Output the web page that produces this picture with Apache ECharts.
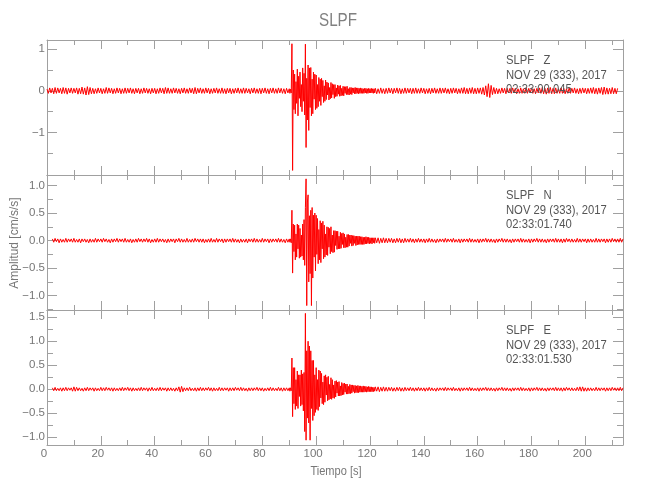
<!DOCTYPE html>
<html>
<head>
<meta charset="utf-8">
<script src="https://cdn.jsdelivr.net/npm/echarts@6/dist/echarts.min.js"></script>
<style>html,body{margin:0;padding:0;background:#fff}#c{width:650px;height:500px}</style>
</head>
<body>
<div id="c"></div>
<script>
// ---------- DATA ----------
const title = 'SLPF';
const components = ['Z', 'N', 'E'];
const stampLines = [
  ['SLPF   Z', 'NOV 29 (333), 2017', '02:33:00.045'],
  ['SLPF   N', 'NOV 29 (333), 2017', '02:33:01.740'],
  ['SLPF   E', 'NOV 29 (333), 2017', '02:33:01.530']
];
const xName = 'Tiempo [s]';
const yName = 'Amplitud [cm/s/s]';
const xTicks = [0, 20, 40, 60, 80, 100, 120, 140, 160, 180, 200];
const xMinorTicks = [10, 30, 50, 70, 90, 110, 130, 150, 170, 190, 210];
const xRange = [0, 214];
const yRanges = [[-2.02, 1.22], [-1.26, 1.19], [-1.16, 1.65]];
const yTicks = [[-1, 0, 1], [-1, -0.5, 0, 0.5, 1], [-1, -0.5, 0, 0.5, 1, 1.5]];
const yMinorTicks = [[-1.5, -0.5, 0.5], [-1.25, -0.75, -0.25, 0.25, 0.75], [-0.75, -0.25, 0.25, 0.75, 1.25]];

// sampling times (s); amplitudes below are in units of 0.01 cm/s/s
const traceStart = [0, 2, 2];
const quietStep = 0.5, eventStart = 90, eventStep = 0.25, postStart = 122;
const ampUnit = 0.01;

// Z component
const zPre = [4,-6,7,-5,6,-7,8,-6,7,-5, 6,-7,8,-6,7,-8,6,-5,7,-6, 6,-5,7,-8,6,-7,9,-8,7,-10,
10,-9,8,-7,6,-7,5,-6,7,-5, 6,-7,5,-6,8,-6,7,-5,6,-7, 5,-6,7,-5,6,-7,5,-6,7,-6,
6,-5,7,-6,5,-7,6,-5,6,-7, 5,-6,7,-5,6,-6,5,-7,6,-5, 6,-7,5,-6,7,-5,6,-7,8,-6,
7,-6,5,-6,7,-5,6,-6,5,-7, 6,-5,7,-6,5,-6,7,-5,6,-7, 8,-7,6,-5,7,-6,5,-6,7,-5,
6,-7,5,-6,6,-5,7,-6,5,-6, 7,-6,5,-7,6,-5,6,-7,5,-6, 6,-5,7,-6,5,-6,7,-6,6,-5,
5,-7,6,-5,7,-6,5,-6,6,-7, 6,-5,7,-6,5,-7,6,-5,7,-6, 5,-6,7,-5,6,-6,5,-7,6,-5];
const zEvent = [5,-6,4,-5, 113,-191,50,-45, 40,-55,22,-30, 52,-60,35,-18, 45,-38,15,-50,
55,-25,42,-58, 112,-136,30,-70, 62,-95,55,-40, 56,-60,28,-55, 45,-20,40,-45,
38,-42,15,-38, 32,-25,28,-35, 30,-14,25,-28, 12,-25,26,-21, 21,-10,19,-22,
8,-19,20,-17, 17,-9,15,-18, 15,-14,7,-13, 14,-8,12,-13, 13,-12,6,-11,
11,-12,10,-6, 10,-9,11,-9, 5,-10,8,-8, 8,-9,7,-5, 7,-7,8,-7, 7,-6,7,-7,
6,-6,7,-6, 6,-6,5,-6, 6,-5,6,-6, 5,-6,6,-5, 5,-5,6,-5, 5,-6,5,-5];
const zPost = [6,-7,5,-6,7,-6,5,-7,6,-6, 7,-5,6,-7,6,-5,7,-6,6,-7, 5,-6,7,-6,6,-5,6,-7,6,-6,
7,-6,5,-6,7,-5,6,-7,5,-6, 6,-7,6,-5,7,-6,5,-6,7,-6, 6,-5,7,-6,5,-7,6,-6,7,-5,
6,-7,5,-6,7,-6,8,-7,6,-7, 7,-6,8,-7,6,-7,7,-6,7,-8, 8,-10,12,-14,17,-16,13,-9,8,-7,
6,-7,5,-6,7,-5,6,-7,6,-5, 6,-6,7,-5,6,-7,5,-6,7,-6, 5,-6,7,-6,6,-5,7,-6,5,-7,
6,-5,7,-6,8,-7,6,-8,7,-6, 8,-7,6,-7,7,-6,5,-6,7,-6, 6,-7,5,-6,7,-6,6,-5,7,-6,
5,-7,6,-6,7,-5,6,-7,6,-6, 7,-6,8,-7,6,-8,7,-6,8,-9, 9,-8,7,-8,6,-7,8,-7,6,-7, 6];

// N component
const nPre = [3,-3,4,-2,3,-4,3,-3,2,-3, 4,-3,3,-2,3,-3,4,-3,2,-3, 3,-4,3,-2,3,-3,2,-4,3,-3,
2,-3,4,-3,3,-2,3,-3,4,-2, 3,-3,2,-4,3,-3,3,-2,4,-3, 3,-2,3,-3,4,-3,2,-3,3,-4,
2,-3,3,-3,4,-2,3,-3,3,-2, 4,-3,3,-4,2,-3,3,-3,4,-3, 3,-2,3,-3,2,-4,3,-3,3,-2,
3,-4,3,-2,4,-3,3,-3,2,-3, 4,-3,2,-3,3,-3,4,-2,3,-3, 3,-3,3,-4,2,-3,3,-3,4,-3,
2,-3,4,-3,3,-2,3,-4,3,-3, 3,-2,3,-3,4,-3,3,-3,2,-4, 3,-3,2,-3,3,-4,3,-2,3,-3,
4,-3,3,-3,2,-3,4,-3,3,-2, 3,-4,3,-3,3,-2,3,-3,4,-3, 3,-3,2,-4,3,-3];
const nEvent = [3,-3,3,-4, 55,-59,30,-20, 28,-35,12,-30, 30,-15,28,-32, 22,-30,10,-28,
30,-35,38,-45, 60,112,-118,70, 83,-75,45,-60, 55,-118,60,-68, 46,-30,50,-55,
46,-25,40,-42, 20,-35,36,-40, 32,-15,35,-33, 28,-30,12,-26, 25,-27,24,-12,
22,-24,25,-20, 10,-22,18,-21, 18,-9,17,-16, 17,-15,8,-15, 15,-14,13,-7,
14,-13,12,-13, 6,-12,11,-12, 11,-10,10,-5, 10,-10,9,-9, 9,-5,8,-9,
8,-8,8,-7, 8,-7,7,-7, 7,-7,6,-7, 6,-6,7,-6, 6,-5,6,-6, 5,-5,5,-6, 5,-4,5,-5];
const nPost = [5,-4,5,-5,4,-4,5,-4,4,-4, 4,-3,4,-4,3,-4,4,-3,4,-4, 3,-4,4,-3,3,-3,4,-3,3,-4,
3,-3,4,-3,3,-3,3,-4,3,-3, 4,-3,3,-3,2,-4,3,-3,3,-2, 3,-3,4,-3,3,-2,3,-3,4,-3,
2,-3,3,-4,3,-3,3,-2,3,-3, 4,-3,3,-3,2,-3,3,-4,3,-3, 3,-2,4,-3,3,-3,3,-3,2,-4,
3,-3,3,-2,4,-3,3,-3,3,-3, 2,-4,3,-3,3,-2,3,-3,4,-3, 3,-3,2,-3,3,-4,3,-3,3,-2,
4,-3,3,-3,3,-3,2,-4,3,-3, 3,-2,3,-3,4,-3,3,-3,3,-4, 3,-3,4,-2,3,-3,3,-3,2,-3,
4,-3,3,-3,3,-2,3,-4,3,-3, 3,-3,2,-3,4,-3,3,-3,3,-2, 3,-4,3,-3,3,-3,4,-2,3,-3, 3,-3,4,-3,3];

// E component
const ePre = [3,-3,4,-3,2,-3,3,-4,3,-3, 4,-3,3,-2,3,-4,5,-4,4,-3, 3,-3,2,-4,3,-3,4,-3,3,-2,
3,-4,3,-3,2,-3,4,-3,3,-3, 4,-2,3,-3,3,-4,3,-3,2,-3, 3,-3,4,-3,3,-2,4,-3,3,-4,
3,-3,2,-3,3,-3,4,-3,3,-2, 3,-4,3,-3,4,-3,2,-3,3,-3, 4,-3,3,-2,3,-4,3,-3,3,-3,
2,-4,3,-3,5,-6,6,-5,3,-3, 3,-3,4,-3,2,-3,3,-4,3,-3, 4,-3,3,-3,3,-2,4,-3,3,-4,
3,-3,2,-3,4,-3,3,-3,3,-2, 3,-4,3,-3,3,-3,4,-2,3,-3, 4,-3,3,-3,2,-4,3,-3,3,-3,
3,-2,4,-3,3,-3,3,-4,2,-3, 3,-3,4,-3,3,-3,2,-3,4,-3, 3,-4,3,-3,3,-3];
const eEvent = [3,-4,3,-3, 65,-57,45,-30, 45,-42,20,-35, 38,-40,30,-15, 30,-35,40,-32,
32,-45,35,-88, 158,-106,80,-60, 100,-70,90,-106, 80,-40,60,-65, 60,-55,30,-48,
45,-42,20,-44, 40,-36,38,-18, 33,-30,15,-32, 28,-27,30,-12, 25,-24,27,-22,
10,-20,24,-21, 20,-18,9,-19, 17,-16,18,-8, 15,-14,16,-14, 7,-13,14,-12,
12,-11,13,-6, 11,-10,11,-10, 6,-9,10,-9, 9,-8,9,-5, 8,-8,8,-7,
7,-7,8,-7, 7,-6,7,-6, 6,-6,7,-6, 6,-5,6,-6, 5,-5,6,-5, 5,-5,5,-5, 4,-5,4,-4];
const ePost = [5,-4,5,-5,4,-4,5,-4,4,-4, 4,-3,4,-4,3,-4,4,-3,4,-4, 3,-4,4,-3,3,-3,4,-3,3,-4,
3,-3,4,-3,3,-3,3,-4,3,-3, 4,-3,3,-3,2,-4,3,-3,3,-2, 3,-3,4,-3,3,-2,3,-3,4,-3,
2,-3,3,-4,3,-3,3,-2,3,-3, 4,-3,3,-3,2,-3,3,-4,3,-3, 3,-2,4,-3,3,-3,3,-3,2,-4,
3,-3,3,-2,4,-3,3,-3,3,-3, 2,-4,3,-3,3,-2,3,-3,4,-3, 3,-3,2,-3,3,-4,3,-3,3,-2,
4,-3,3,-3,3,-3,2,-4,3,-3, 3,-2,3,-3,4,-3,3,-3,3,-4, 3,-3,4,-2,3,-3,3,-3,2,-3,
4,-3,5,-4,5,-4,3,-4,3,-3, 3,-3,2,-3,4,-3,3,-3,3,-2, 3,-4,3,-3,3,-3,4,-2,3,-3, 3,-3,4,-3,3];

// ---------- STYLE / LAYOUT ----------
const FONT = "'Liberation Sans',Arial,sans-serif";
const AX = '#a0a0a0';
const LBL = '#777777';
const TXT = '#555555';
const TRACE = '#ff0000';
const gridLeft = 47, gridWidth = 576, gridHeight = 135;
const gridTops = [40, 175, 310];

function buildTrace(t0, pre, ev, post) {
  const d = [];
  pre.forEach((v, i) => d.push([t0 + i * quietStep, v * ampUnit]));
  ev.forEach((v, i) => d.push([eventStart + i * eventStep, v * ampUnit]));
  post.forEach((v, i) => d.push([postStart + i * quietStep, v * ampUnit]));
  return d;
}
const traces = [
  buildTrace(traceStart[0], zPre, zEvent, zPost),
  buildTrace(traceStart[1], nPre, nEvent, nPost),
  buildTrace(traceStart[2], ePre, eEvent, ePost)
];

function fmtY(gi) {
  return function (v) {
    const a = Math.abs(v);
    const s = gi === 0 ? String(Math.round(a)) : a.toFixed(1);
    return (v < -1e-9 ? '\u2212' : '') + s;
  };
}

const grids = [], xAxes = [], yAxes = [], series = [], graphics = [];
gridTops.forEach((top, gi) => {
  grids.push({ left: gridLeft, top: top, width: gridWidth, height: gridHeight, outerBoundsMode: 'none', containLabel: false });
  const xMainIdx = xAxes.length;
  const mkX = (pos, ticks, len, line, labels) => ({
    gridIndex: gi, type: 'value', min: xRange[0], max: xRange[1], position: pos,
    axisLine: { show: line, onZero: false, lineStyle: { color: AX, width: 1 } },
    axisTick: { show: true, inside: true, length: len, customValues: ticks, lineStyle: { color: AX, width: 1 } },
    axisLabel: labels ? { show: true, customValues: xTicks, margin: 3, color: LBL, fontFamily: FONT, fontSize: 11.5, padding: [0, 6, 0, 0] } : { show: false },
    splitLine: { show: false }, minorTick: { show: false }
  });
  xAxes.push(mkX('bottom', xTicks, 9, true, gi === 2));
  xAxes.push(mkX('bottom', xMinorTicks, 5, false, false));
  xAxes.push(mkX('top', xTicks, 9, true, false));
  xAxes.push(mkX('top', xMinorTicks, 5, false, false));

  const yMainIdx = yAxes.length;
  const mkY = (pos, ticks, len, line, labels) => ({
    gridIndex: gi, type: 'value', min: yRanges[gi][0], max: yRanges[gi][1], position: pos,
    axisLine: { show: line, onZero: false, lineStyle: { color: AX, width: 1 } },
    axisTick: { show: true, inside: true, length: len, customValues: ticks, lineStyle: { color: AX, width: 1 } },
    axisLabel: labels ? { show: true, customValues: yTicks[gi], margin: 2, color: LBL, fontFamily: FONT, fontSize: 11.5, formatter: fmtY(gi) } : { show: false },
    splitLine: { show: false }, minorTick: { show: false }
  });
  yAxes.push(mkY('left', yTicks[gi], 10, true, true));
  yAxes.push(mkY('left', yMinorTicks[gi], 6, false, false));
  yAxes.push(mkY('right', yTicks[gi], 10, true, false));
  yAxes.push(mkY('right', yMinorTicks[gi], 6, false, false));

  series.push({
    name: components[gi], type: 'line', xAxisIndex: xMainIdx, yAxisIndex: yMainIdx,
    data: traces[gi], showSymbol: false, symbol: 'none', silent: true, clip: true,
    lineStyle: { color: TRACE, width: 1 }, z: 2
  });

  stampLines[gi].forEach((txt, li) => {
    graphics.push({
      type: 'text', x: 506, y: top + 20.7 + li * 14.5, z: 100, scaleX: 0.9,
      style: { text: txt, fill: TXT, fontFamily: FONT, fontSize: 12.5, align: 'left', verticalAlign: 'middle' }
    });
  });
});

graphics.push({ type: 'text', x: 338, y: 21, z: 100, scaleX: 0.8,
  style: { text: title, fill: '#808080', fontFamily: FONT, fontSize: 19, align: 'center', verticalAlign: 'middle' } });
graphics.push({ type: 'text', x: 336, y: 472, z: 100, scaleX: 0.92,
  style: { text: xName, fill: LBL, fontFamily: FONT, fontSize: 12, align: 'center', verticalAlign: 'middle' } });
graphics.push({ type: 'text', x: 15, y: 243, rotation: Math.PI / 2, z: 100,
  style: { text: yName, fill: LBL, fontFamily: FONT, fontSize: 12, align: 'center', verticalAlign: 'middle' } });

const chart = echarts.init(document.getElementById('c'), null, { renderer: 'canvas' });
chart.setOption({
  animation: false,
  backgroundColor: '#ffffff',
  grid: grids,
  xAxis: xAxes,
  yAxis: yAxes,
  series: series,
  graphic: graphics
});
</script>
</body>
</html>
